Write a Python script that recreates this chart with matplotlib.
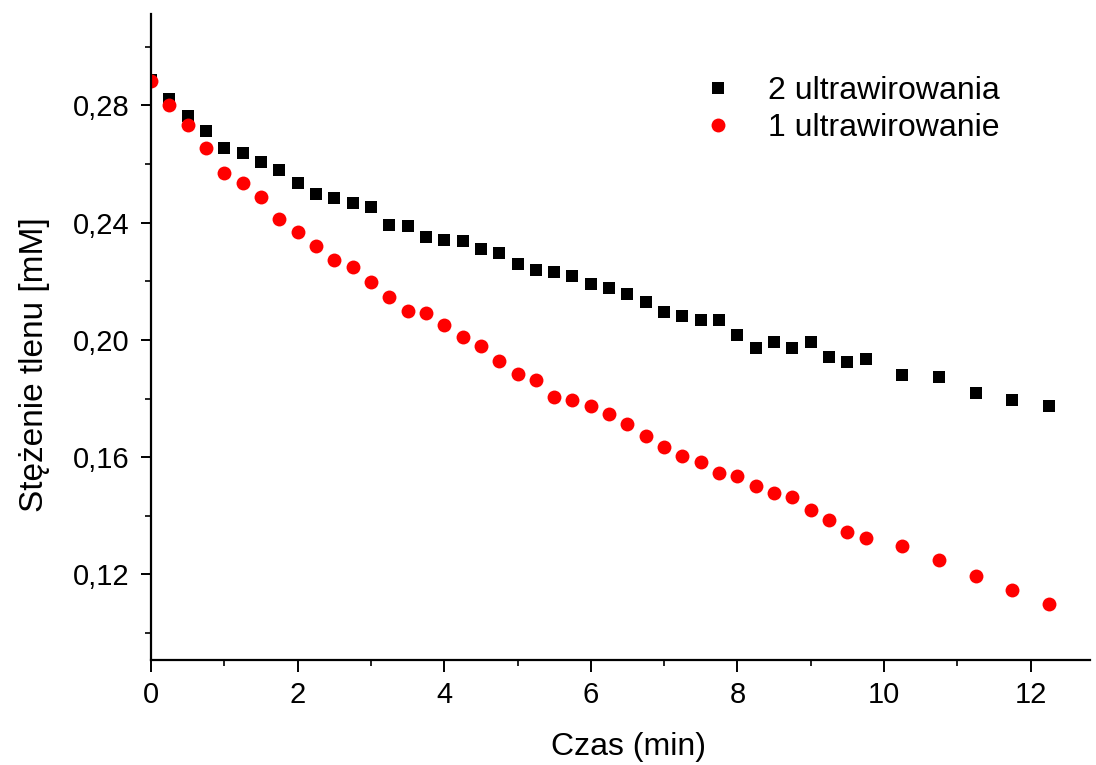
import matplotlib
matplotlib.use("Agg")
import matplotlib.pyplot as plt
from matplotlib.ticker import MultipleLocator, FuncFormatter

plt.rcParams['font.family'] = ['Liberation Sans', 'DejaVu Sans']

# czas pomiaru [min]
czas = [0, 0.25, 0.5, 0.75, 1.0, 1.25, 1.5, 1.75, 2.0, 2.25, 2.5, 2.75, 3.0,
        3.25, 3.5, 3.75, 4.0, 4.25, 4.5, 4.75, 5.0, 5.25, 5.5, 5.75, 6.0,
        6.25, 6.5, 6.75, 7.0, 7.25, 7.5, 7.75, 8.0, 8.25, 8.5, 8.75, 9.0,
        9.25, 9.5, 9.75, 10.25, 10.75, 11.25, 11.75, 12.25]

# stezenie tlenu [mM]
dwa_ultrawirowania = [0.2887, 0.2821, 0.2764, 0.2712, 0.2654, 0.2637, 0.2606,
                      0.2580, 0.2537, 0.2498, 0.2484, 0.2468, 0.2453, 0.2391,
                      0.2387, 0.2352, 0.2342, 0.2337, 0.2309, 0.2297, 0.2259,
                      0.2240, 0.2232, 0.2218, 0.2190, 0.2176, 0.2155, 0.2129,
                      0.2096, 0.2080, 0.2067, 0.2069, 0.2016, 0.1973, 0.1994,
                      0.1972, 0.1992, 0.1940, 0.1926, 0.1936, 0.1881, 0.1875,
                      0.1820, 0.1796, 0.1773]

jedno_ultrawirowanie = [0.2885, 0.2802, 0.2732, 0.2654, 0.2569, 0.2537, 0.2487,
                        0.2412, 0.2369, 0.2320, 0.2274, 0.2250, 0.2199, 0.2147,
                        0.2098, 0.2093, 0.2051, 0.2010, 0.1979, 0.1928, 0.1885,
                        0.1863, 0.1805, 0.1795, 0.1774, 0.1748, 0.1714, 0.1672,
                        0.1635, 0.1604, 0.1584, 0.1546, 0.1535, 0.1502, 0.1477,
                        0.1463, 0.1418, 0.1386, 0.1346, 0.1323, 0.1297, 0.1250,
                        0.1193, 0.1147, 0.1098]

fig = plt.figure(figsize=(10.96, 7.65), dpi=100)
ax = fig.add_axes([0.1378, 0.1373, 0.8567, 0.8444])

ax.plot(czas, dwa_ultrawirowania, 's', color='black', markersize=8,
        markeredgewidth=0, label='2 ultrawirowania')
ax.plot(czas, jedno_ultrawirowanie, 'o', color='red', markersize=10,
        markeredgewidth=0, label='1 ultrawirowanie')

ax.set_xlim(0, 12.81)
ax.set_ylim(0.0908, 0.3112)

for side in ['top', 'right']:
    ax.spines[side].set_visible(False)
for side in ['left', 'bottom']:
    ax.spines[side].set_linewidth(1.6)

ax.xaxis.set_major_locator(MultipleLocator(2))
ax.xaxis.set_minor_locator(MultipleLocator(1))
ax.yaxis.set_major_locator(MultipleLocator(0.04))
ax.yaxis.set_minor_locator(MultipleLocator(0.02))
ax.yaxis.set_major_formatter(FuncFormatter(lambda v, p: f'{v:.2f}'.replace('.', ',')))

ax.tick_params(which='major', direction='out', width=1.4, labelsize=21)
ax.tick_params(axis='x', which='major', length=8.5, pad=7)
ax.tick_params(axis='y', which='major', length=7.5, pad=8)
ax.tick_params(which='minor', direction='out', length=4.5, width=1.2)

ax.set_xlabel('Czas (min)', fontsize=23)
ax.xaxis.set_label_coords(0.508, -0.111)
ax.set_ylabel('Stężenie tlenu [mM]', fontsize=24)
ax.yaxis.set_label_coords(-0.108, 0.457)

ax.legend(loc='upper left', bbox_to_anchor=(0.57, 0.904), frameon=False,
          fontsize=23, borderpad=0, borderaxespad=0, handlelength=2,
          handletextpad=0.55, labelspacing=0.22)

fig.savefig('out.png', dpi=100)
